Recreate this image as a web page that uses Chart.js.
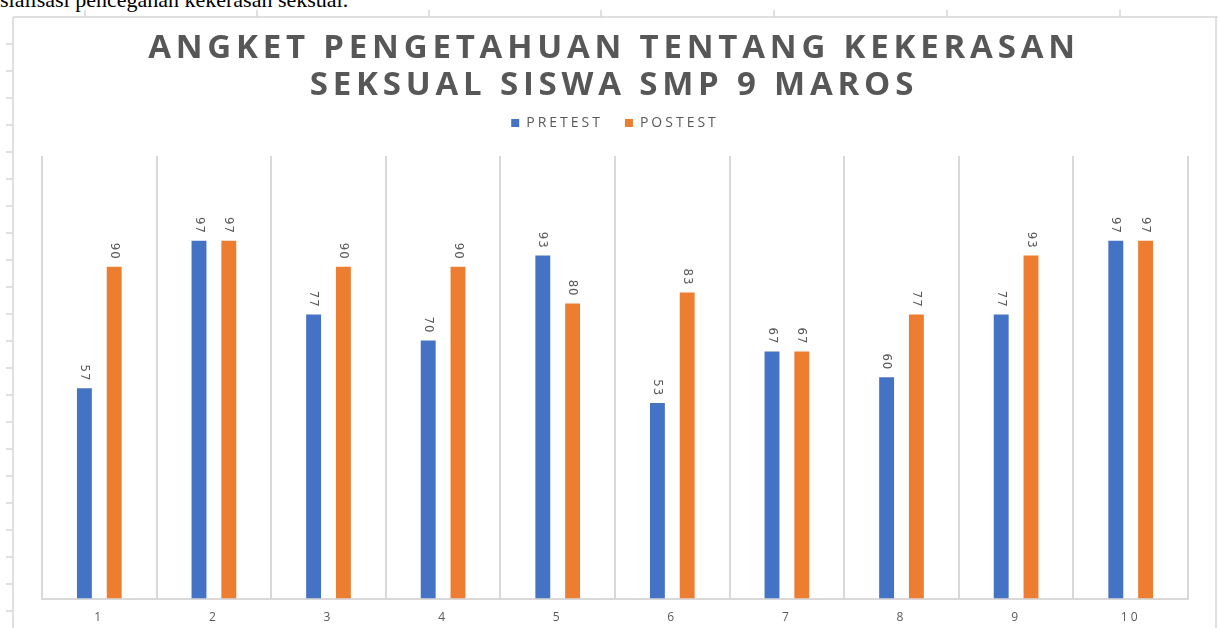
<!DOCTYPE html>
<html>
<head>
<meta charset="utf-8">
<script src="https://cdn.jsdelivr.net/npm/chart.js@4.4.1/dist/chart.umd.min.js"></script>
<style>
  html, body { margin: 0; padding: 0; background: #fff; }
  #page { position: relative; width: 1218px; height: 628px; overflow: hidden; }
  #docText {
    position: absolute; left: 0; top: -13px;
    font-family: "Liberation Serif", "Times New Roman", serif;
    font-size: 22px; color: #000; white-space: nowrap;
  }
  #title {
    position: absolute; left: 0; top: 27px; width: 1228px;
    text-align: center;
    font-family: "Open Sans", sans-serif; font-weight: 700;
    font-size: 33px; line-height: 37px; letter-spacing: 4.8px;
    color: #575757;
  }
  canvas { position: absolute; left: 0; top: 0; }
</style>
</head>
<body>
<div id="page">
  <div id="docText">sialisasi pencegahan kekerasan seksual.</div>
  <canvas id="chart" width="1218" height="628"></canvas>
  <div id="title">ANGKET PENGETAHUAN TENTANG KEKERASAN<br>SEKSUAL SISWA SMP 9 MAROS</div>
</div>
<script>
// ========== DATA ==========
const categories = ['1', '2', '3', '4', '5', '6', '7', '8', '9', '10'];
const pretest = [57, 97, 77, 70, 93, 53, 67, 60, 77, 97];
const postest = [90, 97, 90, 90, 80, 83, 67, 77, 93, 97];
const seriesNames = ['PRETEST', 'POSTEST'];
const seriesColors = ['#4472C4', '#ED7D31'];

// ========== WIDE LETTER SPACING FOR LEGEND + AXIS TEXT ==========
const spacing = {
  id: 'spacing',
  beforeLayout(chart) {
    chart.ctx.letterSpacing = '3px';
    // leave a gap under the legend
    const lg = chart.legend;
    if (lg && !lg._gapPatched) {
      const fit = lg.fit.bind(lg);
      lg.fit = function () { fit(); this.height += 16; };
      lg._gapPatched = true;
    }
  },
  beforeDraw(chart) { chart.ctx.letterSpacing = '3px'; }
};

// ========== PAGE DECORATION (word document ruler / margins) ==========
const pageFrame = {
  id: 'pageFrame',
  beforeDraw(chart) {
    const ctx = chart.ctx;
    ctx.save();
    ctx.strokeStyle = '#d6d6d6';
    ctx.lineWidth = 1.5;
    ctx.beginPath();
    // top line with ticks
    ctx.moveTo(13, 17); ctx.lineTo(1218, 17);
    [85, 257, 429, 601, 774, 947, 1120].forEach(x => {
      ctx.moveTo(x, 10); ctx.lineTo(x, 17);
    });
    // left line with ticks
    ctx.moveTo(13, 17); ctx.lineTo(13, 628);
    for (let y = 44; y < 628; y += 27) {
      ctx.moveTo(6, y); ctx.lineTo(13, y);
    }
    // right edge
    ctx.moveTo(1216, 17); ctx.lineTo(1216, 628);
    ctx.stroke();
    ctx.restore();
  }
};

// ========== ROTATED VALUE LABELS ==========
const valueLabels = {
  id: 'valueLabels',
  afterDatasetsDraw(chart) {
    const ctx = chart.ctx;
    ctx.save();
    ctx.letterSpacing = '1px';
    ctx.font = '13px "DejaVu Sans Condensed", "Liberation Sans Narrow", sans-serif';
    ctx.fillStyle = '#595959';
    ctx.textAlign = 'right';
    ctx.textBaseline = 'middle';
    chart.data.datasets.forEach((ds, di) => {
      chart.getDatasetMeta(di).data.forEach((bar, i) => {
        ctx.save();
        ctx.translate(bar.x, bar.y - 7);
        ctx.rotate(Math.PI / 2);
        ctx.fillText(String(ds.data[i]), 0, 0);
        ctx.restore();
      });
    });
    ctx.restore();
  }
};

const chart = new Chart(document.getElementById('chart'), {
  type: 'bar',
  data: {
    labels: categories,
    datasets: [
      { label: seriesNames[0], data: pretest, backgroundColor: seriesColors[0] },
      { label: seriesNames[1], data: postest, backgroundColor: seriesColors[1] }
    ]
  },
  options: {
    responsive: false,
    animation: false,
    categoryPercentage: 0.52,
    barPercentage: 0.5,
    layout: { padding: { left: 42, right: 30, top: 94, bottom: -9 } },
    plugins: {
      legend: {
        display: true,
        position: 'top',
        labels: {
          boxWidth: 8, boxHeight: 8, padding: 22,
          color: '#595959',
          font: { family: 'Open Sans', size: 14 }
        }
      },
      title: { display: false },
      tooltip: { enabled: false }
    },
    scales: {
      x: {
        grid: {
          display: true, offset: true, drawTicks: false,
          color: '#d9d9d9', lineWidth: 2
        },
        border: { display: true, color: '#d9d9d9', width: 2 },
        ticks: {
          color: '#595959', padding: 12,
          font: { family: 'Open Sans', size: 12 }
        }
      },
      y: {
        display: false,
        min: 0, max: 120
      }
    }
  },
  plugins: [spacing, pageFrame, valueLabels]
});
</script>
</body>
</html>
